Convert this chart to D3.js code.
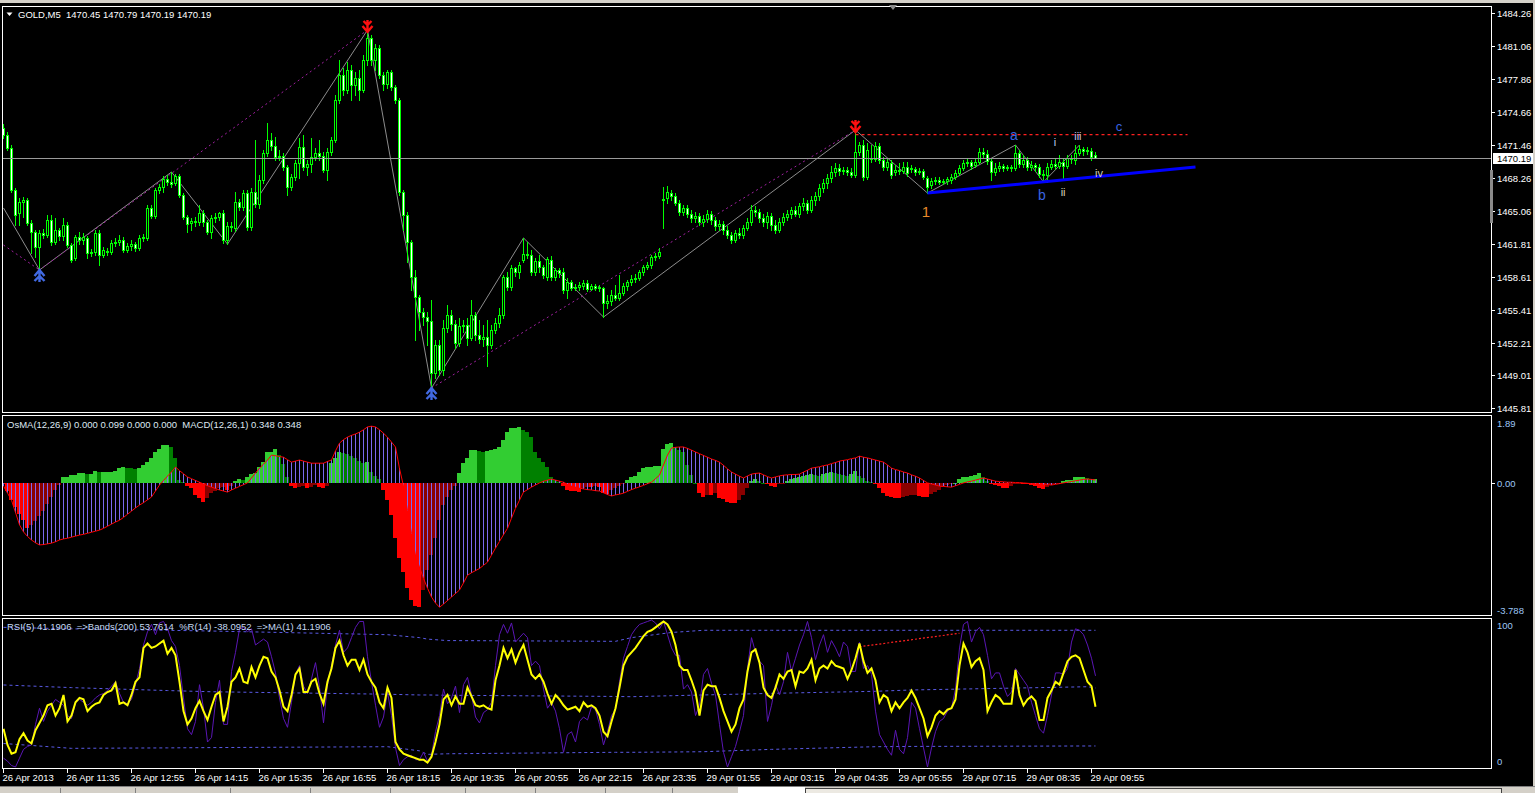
<!DOCTYPE html>
<html lang="en">
<head>
<meta charset="utf-8">
<title>GOLD,M5</title>
<script src="https://d3js.org/d3.v7.min.js"></script>
<style>
  html, body { margin: 0; padding: 0; background: #000; overflow: hidden; }
  svg text { font-family: "Liberation Sans", Arial, sans-serif; }
</style>
</head>
<body>
<div id="chart"></div>
<script>
// ---- price bars (GOLD, M5) ----
const opens = [
1473.09,1472.41,1471.14,1467.07,1464.82,1465.90,1466.10,1463.85,1462.97,1461.50,
1462.87,1462.68,1464.15,1462.00,1463.17,1462.60,1463.65,1461.71,1460.45,1462.48,
1462.20,1462.40,1460.93,1461.03,1462.87,1460.73,1461.13,1461.03,1461.90,1462.00,
1462.20,1461.23,1461.61,1461.80,1461.42,1462.40,1462.40,1465.32,1464.55,1467.07,
1467.37,1468.14,1467.85,1467.75,1468.44,1466.58,1464.45,1463.85,1464.05,1463.95,
1464.82,1463.95,1462.97,1464.35,1464.45,1464.82,1462.20,1463.55,1463.37,1465.90,
1465.42,1466.77,1463.45,1466.87,1465.70,1468.04,1470.68,1471.94,1471.34,1470.29,
1470.39,1469.32,1467.37,1468.34,1469.70,1471.26,1469.32,1469.60,1470.29,1470.68,
1470.39,1469.02,1470.78,1471.94,1475.83,1478.27,1476.81,1478.75,1477.29,1477.98,
1476.81,1479.73,1481.87,1479.73,1480.89,1478.27,1477.39,1478.56,1477.10,1475.83,
1466.87,1464.62,1462.00,1458.60,1456.66,1455.18,1454.70,1454.31,1449.25,1451.98,
1449.54,1453.63,1454.90,1454.02,1452.17,1453.83,1453.92,1452.66,1454.90,1452.95,
1452.56,1452.76,1451.98,1453.44,1454.12,1454.90,1458.60,1457.62,1459.47,1459.09,
1460.25,1460.83,1460.73,1459.09,1460.15,1459.57,1458.60,1460.25,1458.60,1459.28,
1459.09,1457.33,1458.11,1457.53,1457.62,1457.72,1458.01,1457.43,1457.72,1457.53,
1457.53,1456.07,1456.27,1456.85,1456.56,1457.04,1457.72,1458.11,1458.40,1458.50,
1459.09,1459.57,1459.77,1460.53,1460.63,1466.10,1466.30,1466.77,1466.49,1465.80,
1464.92,1465.32,1464.72,1464.35,1464.55,1463.95,1464.25,1464.72,1464.15,1463.55,
1463.75,1463.17,1462.68,1462.20,1462.87,1462.68,1463.37,1463.95,1465.12,1464.92,
1464.35,1463.95,1464.55,1463.65,1463.17,1463.95,1464.45,1464.72,1465.12,1464.72,
1465.52,1465.80,1465.12,1466.10,1466.49,1467.27,1467.75,1468.24,1468.82,1469.21,
1468.92,1469.02,1468.82,1468.53,1470.78,1471.45,1468.34,1470.19,1470.09,1471.36,
1469.99,1469.31,1469.70,1468.82,1469.02,1468.92,1469.31,1469.12,1469.12,1468.82,
1468.92,1468.24,1467.56,1467.95,1468.04,1467.85,1467.95,1468.04,1468.34,1468.73,
1469.21,1469.70,1469.80,1469.51,1469.80,1470.78,1470.58,1469.90,1468.82,1469.21,
1469.41,1469.21,1469.31,1469.21,1470.68,1469.60,1469.99,1469.31,1469.51,1469.31,
1468.63,1468.53,1469.31,1469.60,1469.41,1469.80,1469.41,1470.19,1469.99,1470.68,
1471.07,1470.87,1470.87,1470.45
];
const highs = [
1473.49,1472.71,1471.44,1467.27,1466.30,1466.40,1466.30,1464.15,1463.17,1463.17,
1463.27,1464.62,1464.62,1464.35,1463.37,1464.35,1463.95,1461.90,1462.68,1462.97,
1462.87,1462.60,1461.32,1463.17,1463.17,1461.50,1461.42,1462.20,1462.40,1462.68,
1462.48,1461.90,1462.20,1462.00,1462.68,1462.78,1465.62,1465.62,1467.27,1467.66,
1468.44,1468.53,1468.82,1468.63,1468.63,1466.77,1464.62,1464.35,1464.45,1465.62,
1465.12,1464.15,1464.62,1464.82,1464.92,1465.12,1463.95,1463.95,1466.87,1466.20,
1467.07,1467.07,1467.27,1471.94,1468.53,1470.97,1473.59,1472.61,1472.21,1470.97,
1470.68,1469.51,1468.63,1469.99,1472.14,1472.41,1469.99,1472.14,1471.17,1471.94,
1470.78,1471.17,1472.23,1476.32,1479.73,1478.95,1479.53,1479.24,1478.56,1478.75,
1480.21,1482.65,1482.16,1481.29,1481.19,1478.56,1478.75,1478.75,1477.29,1476.03,
1467.07,1464.92,1462.20,1459.28,1456.85,1455.57,1455.18,1456.36,1452.46,1452.46,
1454.41,1455.87,1455.38,1454.41,1454.60,1454.41,1454.60,1456.36,1455.18,1454.41,
1453.92,1454.41,1453.92,1454.60,1455.57,1458.79,1459.09,1459.77,1459.57,1460.05,
1462.40,1462.00,1461.23,1460.45,1460.73,1459.77,1460.53,1460.63,1459.47,1459.47,
1459.47,1458.50,1458.31,1457.92,1458.11,1458.31,1458.31,1457.92,1457.92,1457.82,
1457.62,1456.85,1457.33,1457.82,1458.79,1458.01,1458.31,1458.79,1458.89,1459.28,
1459.77,1460.05,1460.73,1460.93,1461.42,1467.37,1467.46,1467.07,1466.77,1466.10,
1465.62,1465.62,1465.12,1464.92,1464.82,1464.62,1465.12,1465.02,1464.45,1464.15,
1464.05,1463.55,1462.97,1463.17,1463.37,1463.65,1464.35,1465.62,1465.52,1465.22,
1464.72,1464.92,1464.82,1464.15,1464.35,1464.82,1465.12,1465.42,1465.52,1465.80,
1466.30,1466.10,1466.49,1466.87,1467.66,1468.14,1468.63,1469.41,1469.70,1469.60,
1469.31,1469.31,1469.21,1472.91,1471.74,1471.94,1471.65,1471.45,1471.74,1471.65,
1470.29,1470.19,1469.99,1469.51,1469.70,1469.80,1469.80,1469.51,1469.31,1469.21,
1469.12,1468.44,1468.24,1468.34,1468.34,1468.14,1468.34,1468.63,1469.02,1469.51,
1469.99,1470.19,1469.99,1470.19,1471.17,1471.17,1470.97,1470.09,1469.70,1469.80,
1469.60,1469.51,1469.51,1471.45,1470.97,1470.48,1470.29,1469.90,1469.70,1469.60,
1469.02,1469.70,1469.99,1470.19,1470.48,1470.19,1470.48,1470.48,1471.45,1471.45,
1471.26,1471.26,1471.17,1470.79
];
const lows = [
1472.11,1470.97,1466.87,1463.65,1463.65,1464.42,1463.65,1460.93,1460.53,1459.28,
1462.40,1462.48,1461.71,1461.80,1462.20,1462.20,1461.50,1460.05,1460.25,1461.80,
1461.80,1460.45,1460.63,1460.73,1459.77,1460.53,1460.73,1460.83,1461.61,1461.71,
1461.03,1461.03,1461.23,1461.13,1461.23,1462.10,1462.20,1464.35,1464.35,1466.77,
1466.87,1467.56,1467.37,1467.56,1466.40,1464.25,1462.97,1463.17,1463.55,1463.65,
1463.55,1462.78,1462.40,1463.95,1464.15,1461.90,1461.80,1463.07,1463.07,1465.12,
1465.12,1463.17,1463.17,1465.42,1465.32,1467.75,1470.39,1470.97,1469.99,1469.99,
1469.02,1466.58,1467.07,1468.04,1468.24,1469.02,1468.53,1468.82,1469.99,1469.99,
1468.82,1468.04,1470.48,1471.74,1475.54,1476.32,1476.51,1475.83,1476.32,1475.83,
1476.61,1479.24,1479.24,1478.75,1477.98,1476.81,1477.00,1476.81,1475.54,1466.58,
1463.17,1460.05,1457.33,1452.46,1453.44,1453.92,1451.98,1447.79,1448.77,1449.06,
1449.06,1453.24,1453.44,1451.69,1451.88,1453.24,1451.98,1452.46,1452.46,1452.17,
1451.88,1449.93,1451.69,1453.14,1453.73,1454.60,1457.33,1457.33,1458.69,1458.50,
1460.05,1460.45,1458.79,1458.79,1459.09,1458.50,1458.31,1458.31,1458.31,1458.60,
1457.04,1456.56,1457.33,1457.33,1457.33,1457.43,1457.23,1457.33,1457.33,1457.23,
1454.70,1455.57,1455.87,1456.36,1456.36,1456.85,1457.33,1457.82,1458.11,1458.31,
1458.79,1459.38,1459.47,1460.25,1460.45,1463.37,1465.80,1466.10,1465.62,1464.62,
1464.62,1464.45,1463.95,1463.95,1463.65,1463.55,1463.95,1463.75,1463.17,1463.17,
1462.78,1462.40,1461.90,1462.00,1462.40,1462.40,1463.17,1463.65,1464.55,1463.95,
1463.55,1463.37,1463.17,1462.87,1462.97,1463.65,1464.15,1464.35,1464.55,1464.42,
1465.12,1464.82,1464.92,1465.62,1466.10,1466.87,1467.27,1467.85,1468.44,1468.53,
1468.63,1468.53,1468.34,1468.34,1470.48,1468.04,1468.14,1469.80,1469.90,1469.70,
1469.02,1469.02,1468.24,1468.53,1468.63,1468.73,1468.44,1468.82,1468.53,1468.63,
1468.14,1466.77,1467.27,1467.66,1467.66,1467.66,1467.66,1467.75,1468.14,1468.53,
1469.02,1469.41,1469.12,1469.31,1469.60,1470.29,1469.60,1468.04,1468.53,1468.92,
1468.92,1469.02,1468.92,1469.02,1469.31,1469.31,1469.02,1469.02,1468.92,1468.34,
1467.85,1467.85,1469.12,1469.12,1469.21,1468.24,1469.21,1469.70,1469.60,1470.48,
1470.48,1470.58,1469.99,1470.19
];
const closes = [
1472.41,1471.14,1467.07,1464.62,1465.90,1466.10,1463.85,1462.97,1461.50,1462.87,
1462.68,1464.15,1462.00,1463.17,1462.60,1463.65,1461.71,1460.25,1462.48,1462.20,
1462.48,1460.93,1461.03,1462.87,1460.73,1461.23,1461.03,1461.90,1462.00,1462.20,
1461.23,1461.61,1461.80,1461.42,1462.40,1462.48,1465.32,1464.55,1467.07,1467.37,
1468.14,1467.85,1467.66,1468.44,1466.58,1464.45,1463.75,1464.05,1463.95,1464.82,
1463.95,1462.97,1464.35,1464.45,1464.82,1462.20,1463.55,1463.45,1465.90,1465.42,
1466.77,1463.45,1466.87,1465.70,1468.04,1470.68,1471.94,1471.34,1470.29,1470.39,
1469.32,1467.37,1468.34,1469.70,1471.26,1469.32,1469.60,1470.29,1470.68,1470.39,
1469.02,1470.78,1471.94,1475.83,1478.27,1476.81,1478.75,1477.29,1477.98,1476.81,
1479.73,1481.87,1479.73,1480.89,1478.27,1477.39,1478.56,1477.10,1475.83,1466.87,
1464.62,1462.00,1458.60,1456.66,1455.18,1454.70,1454.31,1449.25,1451.98,1449.54,
1453.63,1454.90,1454.02,1452.17,1453.83,1453.92,1452.66,1454.90,1452.95,1452.56,
1452.76,1451.98,1453.44,1454.12,1454.90,1458.60,1457.62,1459.47,1459.09,1459.77,
1460.83,1460.73,1459.09,1460.15,1459.57,1458.79,1460.35,1458.60,1459.28,1458.99,
1457.33,1458.11,1457.53,1457.62,1457.82,1458.01,1457.43,1457.72,1457.53,1457.62,
1456.07,1456.27,1456.85,1456.56,1457.04,1457.72,1458.11,1458.40,1458.50,1459.09,
1459.57,1459.77,1460.53,1460.63,1461.03,1466.20,1466.87,1466.49,1465.80,1464.92,
1465.32,1464.72,1464.35,1464.55,1463.95,1464.25,1464.72,1464.15,1463.55,1463.75,
1463.17,1462.68,1462.20,1462.87,1462.68,1463.37,1463.95,1465.12,1464.92,1464.35,
1463.95,1464.55,1463.65,1463.17,1463.95,1464.45,1464.72,1465.12,1464.72,1465.52,
1465.80,1465.12,1466.10,1466.49,1467.27,1467.75,1468.24,1468.82,1469.21,1468.92,
1469.02,1468.82,1468.53,1470.78,1471.45,1468.34,1470.97,1470.09,1471.36,1469.99,
1469.31,1469.80,1468.53,1469.02,1468.92,1469.31,1468.73,1469.21,1468.82,1468.92,
1468.34,1467.37,1467.95,1468.04,1467.85,1467.95,1468.14,1468.34,1468.73,1469.21,
1469.70,1469.80,1469.41,1469.80,1470.78,1470.58,1469.90,1468.82,1469.21,1469.41,
1469.21,1469.31,1469.21,1470.68,1469.60,1469.99,1469.31,1469.51,1469.31,1468.63,
1468.53,1469.31,1469.60,1469.41,1469.80,1469.41,1470.19,1470.09,1470.68,1471.07,
1470.87,1470.97,1470.29,1470.19
];

// ---- OsMA(12,26,9) histogram and MACD(12,26,1) ----
const osma = [
-0.05,-0.25,-0.50,-0.70,-0.90,-1.05,-1.30,-1.20,-1.10,-0.95,
-0.80,-0.60,-0.40,-0.20,-0.06,0.15,0.17,0.22,0.22,0.28,
0.28,0.25,0.25,0.33,0.30,0.30,0.30,0.30,0.33,0.40,
0.44,0.42,0.40,0.38,0.41,0.50,0.58,0.70,0.88,0.95,
1.07,1.07,1.02,0.70,0.06,0.03,-0.10,-0.15,-0.35,-0.45,
-0.55,-0.45,-0.30,-0.25,-0.15,-0.12,-0.20,-0.10,0.05,0.10,
0.08,0.17,0.25,0.27,0.45,0.59,0.87,0.87,0.94,0.77,
0.54,0.16,-0.10,-0.15,-0.12,-0.10,-0.15,-0.12,-0.08,-0.12,
-0.15,-0.10,0.55,0.70,0.87,0.85,0.80,0.75,0.70,0.62,
0.55,0.58,0.30,0.20,0.10,-0.20,-0.50,-0.92,-1.58,-2.15,
-2.54,-3.00,-3.34,-3.51,-3.54,-3.05,-2.49,-2.06,-1.58,-1.07,
-0.64,-0.41,-0.21,-0.10,0.27,0.55,0.70,0.92,0.93,0.90,
0.87,0.90,0.93,0.95,1.00,1.20,1.43,1.55,1.56,1.58,
1.49,1.43,1.29,0.87,0.70,0.58,0.44,0.16,0.07,0.02,
-0.10,-0.22,-0.25,-0.25,-0.28,-0.15,-0.12,-0.12,-0.10,-0.12,
-0.30,-0.33,-0.20,-0.15,-0.10,-0.05,0.07,0.15,0.20,0.30,
0.41,0.44,0.45,0.46,0.47,0.95,1.10,1.12,1.00,0.93,
0.88,0.50,0.22,0.00,-0.30,-0.40,-0.35,-0.35,-0.30,-0.45,
-0.48,-0.55,-0.58,-0.59,-0.50,-0.35,-0.15,0.04,0.10,0.05,
0.00,-0.05,-0.10,-0.12,-0.05,-0.02,0.05,0.10,0.12,0.15,
0.18,0.22,0.25,0.22,0.20,0.25,0.28,0.30,0.28,0.25,
0.22,0.20,0.25,0.32,0.20,0.12,0.05,0.02,-0.05,-0.15,
-0.30,-0.38,-0.42,-0.44,-0.45,-0.40,-0.38,-0.36,-0.34,-0.38,
-0.40,-0.41,-0.33,-0.28,-0.20,-0.12,-0.06,-0.02,0.00,0.10,
0.15,0.15,0.20,0.22,0.27,0.15,0.05,-0.03,-0.08,-0.10,
-0.15,-0.16,-0.10,-0.05,-0.03,-0.03,-0.05,-0.08,-0.10,-0.16,
-0.17,-0.12,-0.08,-0.05,-0.02,0.05,0.06,0.08,0.15,0.16,
0.17,0.12,0.10,0.10
];
const macd = [
-0.10,-0.30,-0.50,-0.85,-1.20,-1.40,-1.53,-1.63,-1.71,-1.77,
-1.76,-1.74,-1.72,-1.68,-1.63,-1.60,-1.58,-1.55,-1.52,-1.49,
-1.47,-1.44,-1.41,-1.38,-1.35,-1.30,-1.24,-1.18,-1.12,-1.07,
-0.99,-0.90,-0.81,-0.72,-0.64,-0.57,-0.49,-0.41,-0.24,-0.07,
0.06,0.18,0.30,0.44,0.34,0.25,0.16,0.11,0.06,0.01,
-0.04,-0.09,-0.13,-0.17,-0.21,-0.24,-0.27,-0.21,-0.16,-0.11,
-0.06,-0.01,0.13,0.27,0.41,0.52,0.64,0.78,0.76,0.74,
0.72,0.65,0.58,0.61,0.64,0.61,0.58,0.55,0.55,0.55,
0.55,0.60,0.64,0.90,1.12,1.22,1.29,1.34,1.38,1.43,
1.50,1.58,1.60,1.58,1.50,1.40,1.29,1.15,1.01,0.40,
-0.10,-0.80,-1.45,-2.06,-2.40,-2.72,-3.00,-3.25,-3.42,-3.54,
-3.45,-3.35,-3.25,-3.15,-3.05,-2.85,-2.63,-2.56,-2.50,-2.44,
-2.35,-2.26,-2.06,-1.86,-1.67,-1.48,-1.30,-1.01,-0.73,-0.50,
-0.27,-0.20,-0.13,-0.07,-0.01,0.04,0.07,0.10,0.07,0.04,
0.01,-0.05,-0.10,-0.13,-0.16,-0.18,-0.20,-0.21,-0.23,-0.24,
-0.29,-0.34,-0.38,-0.35,-0.33,-0.30,-0.25,-0.20,-0.16,-0.12,
-0.08,-0.03,0.01,0.11,0.21,0.50,0.78,0.98,1.00,1.01,
1.01,0.97,0.92,0.87,0.82,0.77,0.72,0.67,0.63,0.58,
0.49,0.39,0.30,0.24,0.18,0.13,0.19,0.24,0.26,0.27,
0.22,0.17,0.13,0.16,0.19,0.21,0.22,0.23,0.23,0.24,
0.30,0.35,0.41,0.43,0.45,0.48,0.50,0.54,0.57,0.61,
0.63,0.65,0.68,0.70,0.75,0.72,0.70,0.67,0.64,0.61,
0.58,0.50,0.41,0.37,0.34,0.30,0.27,0.22,0.18,0.13,
0.06,-0.01,-0.04,-0.07,-0.10,-0.11,-0.12,-0.13,-0.09,-0.05,
-0.01,0.02,0.04,0.07,0.10,0.13,0.10,0.07,0.04,0.03,
0.02,0.01,0.01,0.00,0.00,-0.01,-0.02,-0.03,-0.04,-0.05,
-0.06,-0.06,-0.07,-0.05,-0.03,-0.01,0.01,0.03,0.05,0.07,
0.09,0.10,0.09,0.07
];

// ---- RSI(5) and %R(14) (drawn on the 0..100 scale) ----
const rsi = [
26,15,9,10,19,23,18,16,25,30,35,42,43,35,40,49,31,35,44,47,
46,38,41,43,44,49,51,52,57,43,44,42,49,58,61,81,84,81,82,84,
86,77,81,76,58,38,29,33,40,45,38,32,41,49,51,31,41,58,61,67,
58,57,68,61,69,75,74,65,61,52,41,38,49,63,67,51,51,58,60,50,
43,58,67,81,86,76,69,73,73,66,73,63,58,54,44,40,54,47,17,12,
9,8,7,6,5,5,3,7,17,29,46,49,42,48,43,43,54,48,42,41,
42,40,39,59,69,81,74,80,71,78,83,73,63,60,63,58,50,43,49,46,
42,39,40,41,38,44,41,42,40,35,24,21,31,40,54,69,75,78,81,85,
89,92,93,95,97,99,97,92,83,69,66,66,59,51,35,52,56,55,55,47,
38,31,24,29,40,46,65,78,80,71,54,49,47,54,63,60,65,66,55,65,
64,67,73,59,67,69,67,72,69,68,67,60,66,74,84,72,64,67,59,44,
49,47,38,44,40,44,47,52,47,40,33,21,27,35,38,36,39,40,46,69,
84,78,68,72,74,66,38,44,49,47,43,43,43,66,49,42,46,48,45,32,
32,47,52,58,56,64,72,75,76,74,66,58,55,41
];
const wpr = [
6,4,1,0,6,12,14,15,29,40,31,38,42,46,44,42,35,33,44,46,
44,42,44,47,49,50,52,55,58,50,44,43,46,56,67,83,92,97,90,98,
99,94,86,82,69,47,26,22,31,56,40,17,20,44,59,29,29,65,78,94,
95,92,94,83,85,87,85,75,64,47,33,27,44,63,69,55,50,60,71,54,
30,56,69,83,93,78,81,88,95,99,99,75,58,42,27,34,51,35,13,1,
5,7,8,5,5,10,4,8,24,35,53,43,47,55,37,56,61,49,34,30,
37,39,44,69,90,97,91,98,85,88,91,88,69,72,69,53,40,44,38,26,
10,22,24,17,31,34,32,41,39,29,15,24,35,39,58,74,82,90,94,97,
98,99,100,98,94,99,90,81,76,76,53,56,51,35,42,63,67,57,49,29,
10,0,7,14,24,35,67,88,78,72,69,31,42,56,49,58,78,65,74,83,
90,99,88,73,83,90,78,86,81,75,85,82,65,65,85,67,69,63,38,22,
17,12,8,25,12,9,20,44,40,26,13,0,13,24,31,33,38,40,53,81,
97,99,85,92,95,90,76,60,64,64,55,48,51,67,63,59,55,44,35,26,
23,35,49,64,64,63,67,85,94,93,90,83,74,62
];
// Bands(200) on the RSI, read at a few bars
const bandBars   = [0, 17, 41, 52, 96, 104, 106, 111, 153, 157, 167, 175, 192, 218, 227, 271, 273];
const bandUpper  = [95, 94, 93, 92.5, 90, 88, 87, 86, 85.5, 88, 91.5, 93, 93, 93, 93, 93, 93];
const bandMiddle = [55.8, 54, 52, 51.2, 49.5, 49, 49, 48.8, 48, 47.8, 48.5, 49, 50.1, 51.5, 52.4, 54.6, 53.76];
const bandLower  = [16, 12.7, 13, 13.2, 13.8, 11, 8.6, 9, 10, 10, 10.2, 10.4, 12, 13.8, 14, 14.3, 14.3];

// ---- axes ----
const priceTicks = [1484.26, 1481.06, 1477.86, 1474.66, 1471.46, 1468.26, 1465.06,
                    1461.81, 1458.61, 1455.41, 1452.21, 1449.01, 1445.81];
const timeLabels = ["26 Apr 2013", "26 Apr 11:35", "26 Apr 12:55", "26 Apr 14:15", "26 Apr 15:35",
  "26 Apr 16:55", "26 Apr 18:15", "26 Apr 19:35", "26 Apr 20:55", "26 Apr 22:15", "26 Apr 23:35",
  "29 Apr 01:55", "29 Apr 03:15", "29 Apr 04:35", "29 Apr 05:55", "29 Apr 07:15", "29 Apr 08:35", "29 Apr 09:55"];
const barsPerLabel = 16;
const lastPrice = 1470.19;

// ---- chart objects ----
const zigzagBars   = [0, 9, 42, 56, 91, 107, 130, 150, 213, 231, 253, 260, 269];
const zigzagPrices = [1465.32, 1459.28, 1468.82, 1461.80, 1482.65, 1447.79, 1462.40, 1454.70,
                      1472.91, 1466.77, 1471.45, 1467.85, 1471.45];
const channelLines = [[[0, 1461.71], [9, 1459.28]], [[9, 1459.28], [91, 1482.65]], [[107, 1447.79], [213, 1472.91]]];
const trendLine = [[231, 1466.77], [298, 1469.31]];
const levelLine = [[213, 1472.47], [296, 1472.47]];
const rsiTrend = [[214, 81.8], [239, 91]];
const downArrowBars = [91, 213];
const upArrowBars = [9, 107];
const waveText  = ["1", "a", "i", "iii", "c", "b", "ii", "iv"];
const waveBar   = [230.6, 252.6, 262.9, 268.6, 278.9, 259.6, 264.9, 273.9];
const wavePrice = [1464.93, 1472.42, 1471.74, 1472.33, 1473.30, 1466.58, 1466.87, 1468.72];

// ---------------------------------------------------------------------------
const W = 1535, H = 793;
const N = closes.length;
const svg = d3.select("#chart").append("svg")
    .attr("width", W).attr("height", H)
    .style("display", "block").style("background", "#000");

const x = d3.scaleLinear().domain([0, 273]).range([3.5, 1095.5]);
const yPrice = d3.scaleLinear().domain([1445.81, 1484.26]).range([408.34, 13.45]);
const yMacd = d3.scaleLinear().domain([-3.788, 1.89]).range([616, 416]);
const yRsi = d3.scaleLinear().domain([0, 100]).range([767, 620]);

// panel frames / clips
const panels = {main: [6.5, 412.5], macd: [415.5, 615.5], rsi: [618.5, 768.5]};
const defs = svg.append("defs");
Object.entries(panels).forEach(([k, [t, b]]) => {
  defs.append("clipPath").attr("id", "clip-" + k).append("rect")
    .attr("x", 3).attr("y", t + 0.5).attr("width", 1488).attr("height", b - t - 1);
});

// window chrome
svg.append("rect").attr("x", 0).attr("y", 0).attr("width", W).attr("height", 3).attr("fill", "#d4d0c8");
svg.append("rect").attr("x", 1533).attr("y", 0).attr("width", 2).attr("height", H).attr("fill", "#d4d0c8");
svg.append("rect").attr("x", 0).attr("y", 786).attr("width", W).attr("height", 7).attr("fill", "#d4d0c8");
svg.append("line").attr("x1", 0).attr("x2", W).attr("y1", 786.5).attr("y2", 786.5).attr("stroke", "#808080");
svg.append("rect").attr("x", 738).attr("y", 787).attr("width", 67).attr("height", 6).attr("fill", "#fff");
[60, 135, 230, 310, 390, 465, 535, 605, 672].forEach(px =>
  svg.append("line").attr("x1", px + 0.5).attr("x2", px + 0.5).attr("y1", 788).attr("y2", 793).attr("stroke", "#808080"));
svg.append("rect").attr("x", 805.5).attr("y", 788.5).attr("width", 696).attr("height", 6)
  .attr("fill", "#ece9e2").attr("stroke", "#404040");

Object.values(panels).forEach(([t, b]) => {
  svg.append("rect").attr("x", 2.5).attr("y", t).attr("width", 1489).attr("height", b - t)
    .attr("fill", "none").attr("stroke", "#fff").attr("shape-rendering", "crispEdges");
});

// ================= main price panel =================
const gMain = svg.append("g").attr("clip-path", "url(#clip-main)");

// zigzag and its channel
const pLine = d3.line().x(d => x(d[0])).y(d => yPrice(d[1]));
gMain.append("path").attr("d", pLine(zigzagBars.map((b, k) => [b, zigzagPrices[k]])))
  .attr("fill", "none").attr("stroke", "#8c8c8c").attr("stroke-width", 1);
channelLines.forEach(seg => gMain.append("path").attr("d", pLine(seg))
  .attr("fill", "none").attr("stroke", "#a020a0").attr("stroke-width", 1).attr("stroke-dasharray", "2,3"));

// candles
const cg = gMain.append("g").attr("shape-rendering", "crispEdges");
d3.range(N).forEach(i => {
  const cx = x(i);
  cg.append("line").attr("x1", cx).attr("x2", cx)
    .attr("y1", Math.round(yPrice(highs[i]))).attr("y2", Math.round(yPrice(lows[i])) + 1)
    .attr("stroke", "#00ff00");
  const top = Math.round(yPrice(Math.max(opens[i], closes[i])));
  const bot = Math.round(yPrice(Math.min(opens[i], closes[i])));
  cg.append("rect").attr("x", cx - 1).attr("y", top + 0.5)
    .attr("width", 2).attr("height", Math.max(bot - top, 1))
    .attr("fill", closes[i] >= opens[i] ? "#000" : "#fff")
    .attr("stroke", "#00ff00").attr("stroke-width", 1);
});

// bid line
gMain.append("line").attr("x1", 3).attr("x2", 1491)
  .attr("y1", Math.round(yPrice(lastPrice)) + 0.5).attr("y2", Math.round(yPrice(lastPrice)) + 0.5)
  .attr("stroke", "#9a9a9a");

// level + trend line
gMain.append("path").attr("d", pLine(levelLine)).attr("fill", "none")
  .attr("stroke", "#ff2020").attr("stroke-width", 1.3).attr("stroke-dasharray", "3,3");
gMain.append("path").attr("d", pLine(trendLine)).attr("fill", "none")
  .attr("stroke", "#0000ff").attr("stroke-width", 3);

// fractal arrows
downArrowBars.forEach(b => {
  const cx = x(b), ty = yPrice(highs[b]) + 2;
  gMain.append("path")
    .attr("d", `M${cx},${ty - 12}L${cx},${ty}M${cx - 5},${ty - 6}L${cx},${ty}L${cx + 5},${ty - 6}M${cx - 4},${ty - 11}L${cx},${ty - 7}L${cx + 4},${ty - 11}`)
    .attr("fill", "none").attr("stroke", "#ff1010").attr("stroke-width", 2.4);
});
upArrowBars.forEach(b => {
  const cx = x(b), ty = yPrice(lows[b]) - 1;
  gMain.append("path")
    .attr("d", `M${cx},${ty}L${cx},${ty + 13}M${cx - 5},${ty + 7}L${cx},${ty + 1}L${cx + 5},${ty + 7}M${cx - 5},${ty + 12}L${cx},${ty + 7}L${cx + 5},${ty + 12}`)
    .attr("fill", "none").attr("stroke", "#4169e1").attr("stroke-width", 2.4);
});

// wave labels
const waveStyle = {
  "1": ["#e8892a", 15], "a": ["#3a64e0", 14], "b": ["#3a64e0", 14], "c": ["#3a64e0", 13],
  "i": ["#b8c8f0", 11], "iii": ["#c8c0f0", 11], "ii": ["#d8d0b8", 11], "iv": ["#d8d0b8", 11]
};
waveText.forEach((t, k) => {
  gMain.append("text").attr("x", x(waveBar[k])).attr("y", yPrice(wavePrice[k]))
    .attr("text-anchor", "middle").attr("dominant-baseline", "central")
    .attr("fill", waveStyle[t][0]).attr("font-size", waveStyle[t][1]).text(t);
});

// header
svg.append("path").attr("d", "M6.5,12.5L12.5,12.5L9.5,16z").attr("fill", "#fff");
svg.append("text").attr("x", 18).attr("y", 18).attr("fill", "#fff").attr("font-size", 9.5)
  .style("white-space", "pre").text("GOLD,M5  1470.45 1470.79 1470.19 1470.19");

// price axis
priceTicks.forEach(p => {
  const yy = Math.round(yPrice(p)) + 0.5;
  svg.append("line").attr("x1", 1492).attr("x2", 1495).attr("y1", yy).attr("y2", yy).attr("stroke", "#fff");
  svg.append("text").attr("x", 1497).attr("y", yy).attr("dominant-baseline", "central")
    .attr("fill", "#fff").attr("font-size", 9.5).text(p.toFixed(2));
});
svg.append("rect").attr("x", 1493).attr("y", Math.round(yPrice(lastPrice)) - 5)
  .attr("width", 40).attr("height", 11).attr("fill", "#fff");
svg.append("text").attr("x", 1497).attr("y", Math.round(yPrice(lastPrice)) + 0.5)
  .attr("dominant-baseline", "central").attr("fill", "#000").attr("font-size", 9.5).text(lastPrice.toFixed(2));
svg.append("rect").attr("x", 1490).attr("y", 170).attr("width", 3).attr("height", 53).attr("fill", "#8a8a8a");
svg.append("path").attr("d", "M889,5L897,5L893,10z").attr("fill", "#8a8a8a");

// ================= OsMA / MACD panel =================
const gM = svg.append("g").attr("clip-path", "url(#clip-macd)").attr("shape-rendering", "crispEdges");
const osmaColor = i => {
  const v = osma[i], prev = i > 0 ? osma[i - 1] : 0;
  if (v >= 0) return v >= prev ? "#32cd32" : "#008000";
  return v <= prev ? "#ff0000" : "#8b0000";
};
d3.range(N).forEach(i => {
  const y0 = Math.round(yMacd(0)), y1 = Math.round(yMacd(osma[i]));
  gM.append("rect").attr("x", Math.round(x(i) - 2.5)).attr("y", Math.min(y0, y1))
    .attr("width", 4).attr("height", Math.max(Math.abs(y1 - y0), 1)).attr("fill", osmaColor(i));
});
d3.range(N).forEach(i => {
  gM.append("line").attr("x1", x(i)).attr("x2", x(i))
    .attr("y1", Math.round(yMacd(0))).attr("y2", Math.round(yMacd(macd[i])))
    .attr("stroke", "#7b68ee");
});
svg.append("g").attr("clip-path", "url(#clip-macd)").append("path")
  .attr("d", d3.line().x((d, i) => x(i)).y(d => yMacd(d))(macd))
  .attr("fill", "none").attr("stroke", "#ff0000").attr("stroke-width", 1);

svg.append("text").attr("x", 7).attr("y", 428).attr("fill", "#dfe8f2").attr("font-size", 9.5)
  .style("white-space", "pre").text("OsMA(12,26,9) 0.000 0.099 0.000 0.000  MACD(12,26,1) 0.348 0.348");
const macdLabels = [[1.89, "1.89", 7], [0, "0.00", 0.5], [-3.788, "-3.788", -6]];
macdLabels.forEach(([v, t, dy]) => {
  svg.append("text").attr("x", 1497).attr("y", yMacd(v) + dy).attr("dominant-baseline", "central")
    .attr("fill", "#9ec6f5").attr("font-size", 9.5).text(t);
});
svg.append("line").attr("x1", 1492).attr("x2", 1495).attr("y1", Math.round(yMacd(0)) + 0.5)
  .attr("y2", Math.round(yMacd(0)) + 0.5).attr("stroke", "#fff");

// ================= RSI / %R panel =================
const gR = svg.append("g").attr("clip-path", "url(#clip-rsi)");
const bandLine = d3.line().x((d, k) => x(bandBars[k])).y(d => yRsi(d));
[bandUpper, bandMiddle, bandLower].forEach(arr => {
  gR.append("path").attr("d", bandLine(arr)).attr("fill", "none")
    .attr("stroke", "#5a5ae6").attr("stroke-width", 1).attr("stroke-dasharray", "3,3");
});
gR.append("path").attr("d", d3.line().x(d => x(d[0])).y(d => yRsi(d[1]))(rsiTrend))
  .attr("fill", "none").attr("stroke", "#ff2020").attr("stroke-width", 1.2).attr("stroke-dasharray", "2,2");
gR.append("path").attr("d", d3.line().x((d, i) => x(i)).y(d => yRsi(d))(wpr))
  .attr("fill", "none").attr("stroke", "#5a16b4").attr("stroke-width", 1);
gR.append("path").attr("d", d3.line().x((d, i) => x(i)).y(d => yRsi(d))(rsi))
  .attr("fill", "none").attr("stroke", "#ffff00").attr("stroke-width", 2);

svg.append("text").attr("x", 7).attr("y", 630).attr("fill", "#c6daf2").attr("font-size", 9.5)
  .style("white-space", "pre").text("RSI(5) 41.1906  =>Bands(200) 53.7614  %R(14) -38.0952  =>MA(1) 41.1906");
[[100, "100", 5], [0, "0", -6]].forEach(([v, t, dy]) => {
  svg.append("text").attr("x", 1497).attr("y", yRsi(v) + dy).attr("dominant-baseline", "central")
    .attr("fill", "#9ec6f5").attr("font-size", 9.5).text(t);
});

// ================= time axis =================
timeLabels.forEach((t, k) => {
  const tx = x(k * barsPerLabel);
  svg.append("line").attr("x1", tx).attr("x2", tx).attr("y1", 769).attr("y2", 773).attr("stroke", "#fff");
  svg.append("text").attr("x", tx - 1).attr("y", 781).attr("fill", "#fff").attr("font-size", 9.5).text(t);
});
</script>
</body>
</html>
